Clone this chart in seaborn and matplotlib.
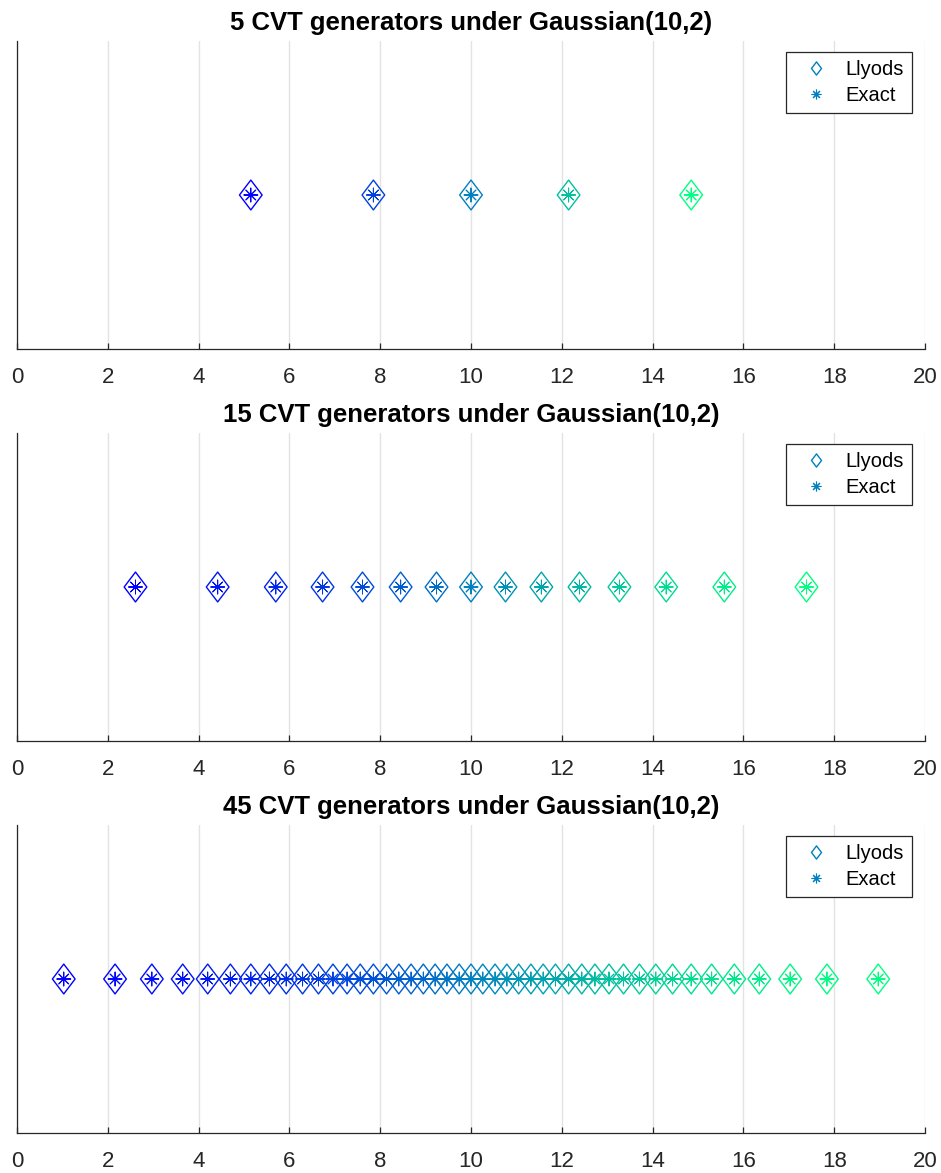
import numpy as np
import pandas as pd
import matplotlib
matplotlib.use("Agg")
import matplotlib.pyplot as plt
from matplotlib.path import Path
from matplotlib.lines import Line2D
import seaborn as sns

# ---------------- data ----------------
gens_5 = [5.15, 7.85, 10.0, 12.15, 14.85]
gens_15 = [2.61, 4.42, 5.70, 6.73, 7.61, 8.45, 9.24, 10.0,
           10.76, 11.55, 12.39, 13.27, 14.30, 15.58, 17.39]
gens_45 = [1.03, 2.16, 2.97, 3.65, 4.20, 4.70, 5.15, 5.56, 5.93, 6.29,
           6.64, 6.96, 7.27, 7.56, 7.85, 8.14, 8.41, 8.68, 8.95, 9.21,
           9.47, 9.74, 10.0, 10.26, 10.53, 10.79, 11.05, 11.32, 11.59, 11.86,
           12.15, 12.44, 12.73, 13.04, 13.36, 13.71, 14.07, 14.44, 14.85, 15.30,
           15.80, 16.35, 17.03, 17.84, 18.97]
panels = [gens_5, gens_15, gens_45]
title_fmt = "{} CVT generators under Gaussian(10,2)"
legend_labels = ["Llyods", "Exact"]
xticks = list(range(0, 21, 2))

# ---------------- style ----------------
sns.set_theme(style="white")
plt.rcParams["font.family"] = ["Liberation Sans", "DejaVu Sans"]

diamond = Path([(0, 1), (0.76, 0), (0, -1), (-0.76, 0), (0, 1)],
               [Path.MOVETO, Path.LINETO, Path.LINETO, Path.LINETO, Path.CLOSEPOLY])
asterisk = (8, 2, 0)
cmap = plt.get_cmap("winter")
legend_color = cmap(0.5)

fig = plt.figure(figsize=(9.41, 11.73), dpi=100)
W, H = 941, 1173
left, right = 17, 925
axes_px = [(41, 349), (433, 741), (825, 1133)]

for (top, bottom), gens in zip(axes_px, panels):
    ax = fig.add_axes([left / W, 1 - bottom / H, (right - left) / W, (bottom - top) / H])
    n = len(gens)
    colors = [cmap(v) for v in np.linspace(0, 1, n)]
    df = pd.DataFrame({"x": gens, "y": np.zeros(n), "idx": np.arange(n)})

    sns.scatterplot(data=df, x="x", y="y", hue="idx", palette=colors,
                    marker=diamond, s=21.5 ** 2, legend=False, ax=ax)
    c1 = ax.collections[-1]
    c1.set_facecolors("none")
    c1.set_edgecolors(colors)
    c1.set_linewidths(1.0)

    sns.scatterplot(data=df, x="x", y="y", hue="idx", palette=colors,
                    marker=asterisk, s=10 ** 2, legend=False, ax=ax)
    c2 = ax.collections[-1]
    c2.set_facecolors("none")
    c2.set_edgecolors(colors)
    c2.set_linewidths(0.7)

    ax.set_xlim(0, 20)
    ax.set_ylim(-1, 1)
    ax.set_xticks(xticks)
    ax.set_xticklabels([str(t) for t in xticks], fontsize=16, color="#262626")
    ax.set_yticks([])
    ax.set_xlabel("")
    ax.set_ylabel("")
    ax.grid(axis="x", color="#e3e3e3", linewidth=1.0)
    ax.set_axisbelow(True)
    for s in ["top", "right"]:
        ax.spines[s].set_visible(False)
    for s in ["left", "bottom"]:
        ax.spines[s].set_color("#262626")
        ax.spines[s].set_linewidth(0.9)
    ax.tick_params(axis="x", direction="in", length=4, width=0.9,
                   color="#262626", pad=13, bottom=True)
    ax.set_title(title_fmt.format(n), fontsize=18.5, fontweight="bold",
                 pad=8, color="black")

    handles = [
        Line2D([], [], linestyle="none", marker=diamond, markersize=9.5,
               markerfacecolor="none", markeredgecolor=legend_color, markeredgewidth=1.0),
        Line2D([], [], linestyle="none", marker=asterisk, markersize=7,
               markeredgecolor=legend_color, markeredgewidth=0.8),
    ]
    leg = ax.legend(handles, legend_labels, loc="upper right",
                    bbox_to_anchor=(0.9857, 0.964), borderaxespad=0,
                    fontsize=14.5, frameon=True, fancybox=False,
                    edgecolor="#262626", handlelength=2.2, handletextpad=0.35,
                    borderpad=0.4, labelspacing=0.35, labelcolor="black")
    leg.get_frame().set_linewidth(0.9)
    leg.get_frame().set_alpha(1)

fig.savefig("out.png", dpi=100)
